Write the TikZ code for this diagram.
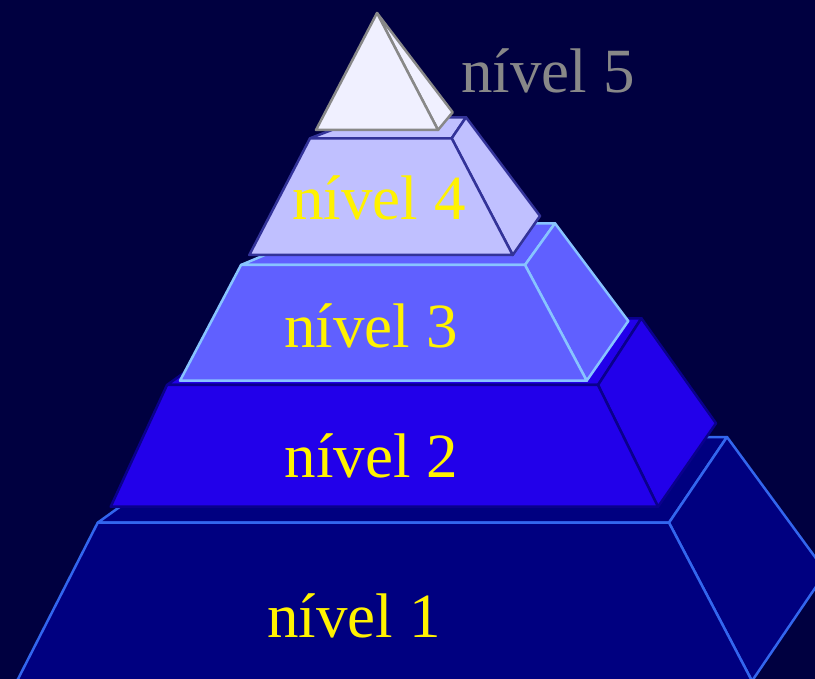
\documentclass[tikz,border=0pt]{standalone}
\usepackage{fontspec}
\setmainfont{Liberation Serif}
\definecolor{bgnavy}{HTML}{000040}
\definecolor{onefill}{HTML}{000080}
\definecolor{oneline}{HTML}{3366EE}
\definecolor{twofill}{HTML}{2200EA}
\definecolor{twoline}{HTML}{0A008C}
\definecolor{threefill}{HTML}{6060FF}
\definecolor{threeline}{HTML}{88C4FF}
\definecolor{fourfill}{HTML}{C0C0FF}
\definecolor{fourline}{HTML}{333399}
\definecolor{fivefill}{HTML}{F0F0FF}
\definecolor{fiveline}{HTML}{888888}
\begin{document}
\begin{tikzpicture}[x=1pt, y=-1pt, line width=2.5pt, line join=round,
  lvlone/.style={fill=onefill, draw=oneline},
  lvltwo/.style={fill=twofill, draw=twoline},
  lvlthree/.style={fill=threefill, draw=threeline},
  lvlfour/.style={fill=fourfill, draw=fourline},
  lvlfive/.style={fill=fivefill, draw=fiveline},
  lbl/.style={font=\fontsize{63}{70}\selectfont, text=yellow, inner sep=0pt, anchor=base}]
  \fill[bgnavy] (0,0) rectangle (815,679);
  \useasboundingbox (0,0) rectangle (815,679);
  \clip (0,0) rectangle (815,679);
  \filldraw[lvlone] (97.7,522.7) -- (669,522.7) -- (727,437) -- (217,437) -- cycle;
  \filldraw[lvlone] (669,522.7) -- (727,437) -- (826,572) -- (752,681) -- cycle;
  \filldraw[lvlone] (97.7,522.7) -- (669,522.7) -- (752,681) -- (17,681) -- cycle;
  \filldraw[lvltwo] (167,385) -- (598,385) -- (641.4,318.3) -- (260,318.3) -- cycle;
  \filldraw[lvltwo] (598,385) -- (641.4,318.3) -- (716,423.3) -- (658,506.7) -- cycle;
  \filldraw[lvltwo] (167,385) -- (598,385) -- (658,506.7) -- (110.7,506.7) -- cycle;
  \filldraw[lvlthree] (241,265) -- (525,265) -- (555,223.3) -- (340,223.3) -- cycle;
  \filldraw[lvlthree] (525,265) -- (555,223.3) -- (628.3,321) -- (586.7,380.7) -- cycle;
  \filldraw[lvlthree] (241,265) -- (525,265) -- (586.7,380.7) -- (180,380.7) -- cycle;
  \filldraw[lvlfour] (310,138.3) -- (451.7,138.3) -- (466,117.3) -- (365,117.3) -- cycle;
  \filldraw[lvlfour] (451.7,138.3) -- (466,117.3) -- (540,216) -- (512.7,255) -- cycle;
  \filldraw[lvlfour] (310,138.3) -- (451.7,138.3) -- (512.7,255) -- (249.3,255) -- cycle;
  \filldraw[lvlfive] (377,13) -- (452.7,112.3) -- (438,130) -- cycle;
  \filldraw[lvlfive] (377,13) -- (438,130) -- (316,130) -- cycle;
  \node[lbl] (n1) at (354,637) {nível 1};
  \node[lbl] (n2) at (371.5,477) {nível 2};
  \node[lbl] (n3) at (371,348) {nível 3};
  \node[lbl] (n4) at (379,220) {nível 4};
  \node[lbl, anchor=base west, text=fiveline] (n5) at (460,93) {nível 5};
\end{tikzpicture}
\end{document}
